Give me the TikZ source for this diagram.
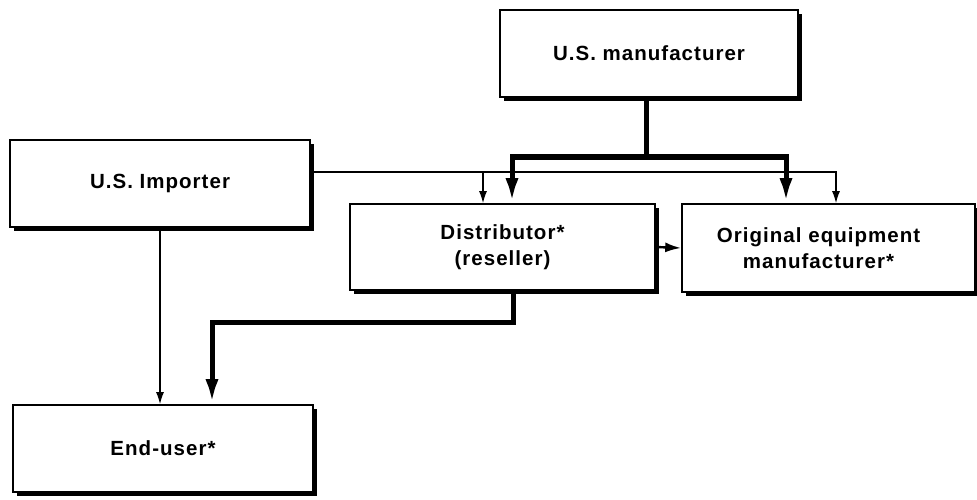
\documentclass[tikz,border=0pt]{standalone}
\usepackage{fontspec}
\setmainfont{Liberation Sans}[LetterSpace=5]
\usetikzlibrary{arrows.meta,shadows}
\begin{document}
\begin{tikzpicture}[x=1pt,y=-1pt,
  box/.style={draw, line width=1.6pt, fill=white, inner sep=0pt, align=center,
    font=\bfseries\fontsize{20.5}{26}\selectfont,
    drop shadow={shadow xshift=4pt,shadow yshift=-4pt,fill=black,opacity=1}},
  thk/.style={line width=5pt, -{Latex[length=25pt,width=13pt]}},
  thkline/.style={line width=5pt},
  thn/.style={line width=1.4pt, -{Latex[length=12pt,width=8pt]}},
  mid/.style={line width=2.4pt, -{Latex[length=16pt,width=10pt]}}
]
\useasboundingbox (0,0) rectangle (977,500);
\fill[white] (0,0) rectangle (977,500);

\node[box, minimum width=298pt, minimum height=87pt] (man) at (649,53.5) {U.S. manufacturer};
\node[box, minimum width=300pt, minimum height=87pt] (imp) at (160,183.5) {U.S. Importer};
\node[box, minimum width=305pt, minimum height=86pt] (dis) at (502.5,247) {Distributor*\\(reseller)};
\node[box, minimum width=293pt, minimum height=88pt, text width=270pt] (oem) at (828.5,248) {\hspace*{-20pt}Original equipment\\\hspace*{-20pt}manufacturer*};
\node[box, minimum width=300pt, minimum height=87pt] (end) at (163,448.5) {End-user*};

% thin importer lines
\coordinate (b1) at (483,172);
\draw[thn] ([yshift=11.5pt]imp.east) -| ([xshift=7.5pt]oem.north);
\draw[thn] (b1) -- (b1 |- dis.north);
\draw[thn] (imp.south) -- (imp.south |- end.north);

% thick manufacturer lines
\coordinate (j) at (646,157);
\draw[thkline] (man.south -| j) -- (j);
\draw[thk] (j) -| ([xshift=9.5pt]dis.north);
\draw[thk] (j) -| ([xshift=-42.5pt]oem.north);

% distributor to end-user
\coordinate (k) at (212,322);
\draw[thk] ([xshift=10.5pt]dis.south) |- (k) -- (k |- end.north);

% distributor to OEM
\draw[mid] (dis.east) -- (oem.west);
\end{tikzpicture}
\end{document}
